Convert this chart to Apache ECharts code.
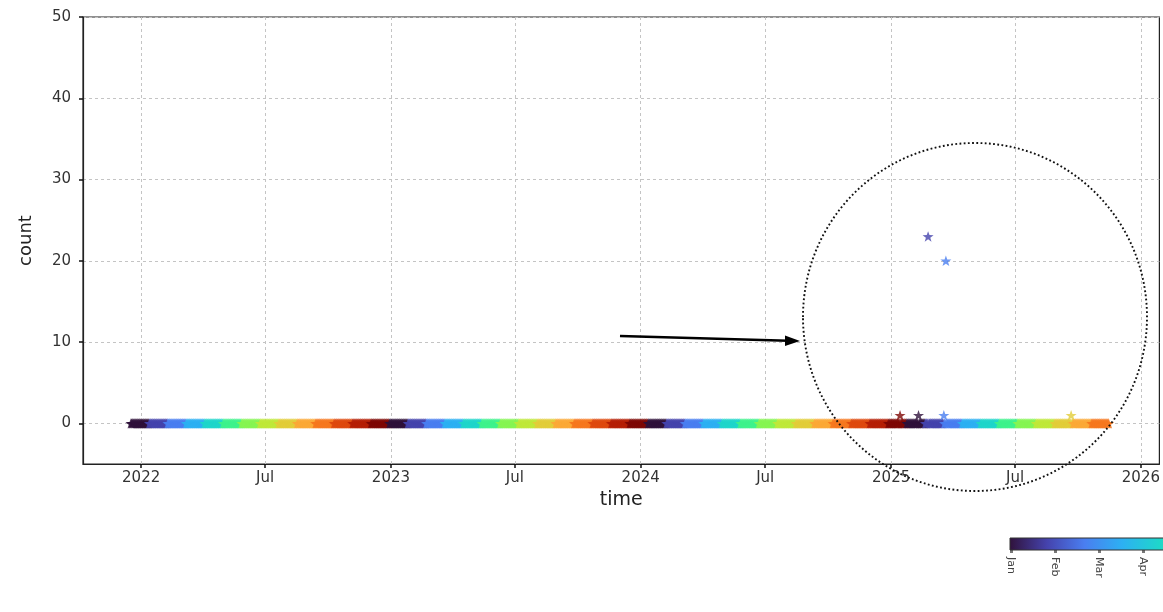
<!DOCTYPE html>
<html>
<head>
<meta charset="utf-8">
<script src="https://cdn.jsdelivr.net/npm/echarts@6/dist/echarts.min.js"></script>
<style>
html,body{margin:0;padding:0;background:#fff;}
#chart{width:1163px;height:612px;}
</style>
</head>
<body>
<div id="chart"></div>
<script>
// ---- data ----
const bandStart = '2021-12-17';          // first zero-count day
const bandEnd = '2025-11-15';            // last zero-count day
const eventDates = ['2025-01-14', '2025-02-10', '2025-02-24', '2025-03-19', '2025-03-22', '2025-09-21'];
const eventCounts = [1, 1, 23, 1, 20, 1];
const xTickDates = ['2022-01-01', '2022-07-01', '2023-01-01', '2023-07-01', '2024-01-01', '2024-07-01', '2025-01-01', '2025-07-01', '2026-01-01'];
const xTickLabels = ['2022', 'Jul', '2023', 'Jul', '2024', 'Jul', '2025', 'Jul', '2026'];
const yTicks = [0, 10, 20, 30, 40, 50];
const colorbarMonths = ['Jan', 'Feb', 'Mar', 'Apr', 'May', 'Jun', 'Jul', 'Aug', 'Sep', 'Oct', 'Nov', 'Dec'];
const palette = ['#30123b', '#4543ad', '#4a7ef0', '#2db0f2', '#1fd6cb', '#3ef28c', '#86f553', '#bfe83a', '#e2cd3a', '#fba937', '#f6781f', '#de4a0f', '#b51f06', '#7e0805'];
const colourCycleDays = 27;

// ---- helpers ----
const DAY = 86400000;
const ts = s => { const [y, m, d] = s.split('-').map(Number); return Date.UTC(y, m - 1, d); };
const t0 = ts(bandStart);
const phaseOf = t => Math.floor(Math.round((t - t0) / DAY) / colourCycleDays) % palette.length;

const eventTs = eventDates.map(ts);
const bandData = [];
for (let t = t0; t <= ts(bandEnd); t += DAY) {
  if (eventTs.indexOf(t) >= 0) continue;
  bandData.push([t, 0, phaseOf(t)]);
}
const eventData = eventTs.map((t, i) => [t, eventCounts[i], phaseOf(t)]);

const xTickTs = xTickDates.map(ts);
const labelFor = v => { const i = xTickTs.indexOf(v); return i >= 0 ? xTickLabels[i] : ''; };

const star = 'path://M0,-10L2.35,-3.24L9.51,-3.09L3.8,1.24L5.88,8.09L0,4L-5.88,8.09L-3.8,1.24L-9.51,-3.09L-2.35,-3.24Z';
const FONT = 'DejaVu Sans';
const CB_STEP = 44;                 // colorbar px per month
const CB_LEFT = 1011;
const cbVisible = (1163 - CB_LEFT) / CB_STEP;

const chart = echarts.init(document.getElementById('chart'), null, {renderer: 'canvas'});
chart.setOption({
  animation: false,
  backgroundColor: '#fff',
  textStyle: {fontFamily: FONT},
  grid: [
    {left: 83, top: 17, right: 3, bottom: 148, show: true, borderColor: '#222', borderWidth: 1.2, backgroundColor: 'transparent'},
    {left: CB_LEFT, top: 538, right: 0, height: 12}
  ],
  xAxis: [
    {
      type: 'value', gridIndex: 0,
      min: ts('2021-10-08'), max: ts('2026-01-28'),
      name: 'time', nameLocation: 'middle', nameGap: 27,
      nameTextStyle: {fontSize: 19, color: '#222', fontFamily: FONT},
      axisLine: {show: true, onZero: false, lineStyle: {color: '#222', width: 1.2}},
      axisTick: {show: true, inside: false, length: 4, lineStyle: {color: '#111', width: 1.5}, customValues: xTickTs},
      axisLabel: {customValues: xTickTs, formatter: v => labelFor(v), fontSize: 15, color: '#333', margin: 7, fontFamily: FONT},
      splitLine: {show: true, lineStyle: {color: '#c4c4c4', width: 1, type: [3, 3]}}
    },
    {
      type: 'value', gridIndex: 1, min: 0, max: cbVisible, interval: 1,
      axisLine: {show: false, onZero: false},
      axisTick: {show: true, length: 3, lineStyle: {color: '#777', width: 3}},
      axisLabel: {formatter: v => colorbarMonths[v] || '', rotate: -90, fontSize: 11, color: '#444', margin: 7, fontFamily: FONT, showMaxLabel: false},
      splitLine: {show: false}
    }
  ],
  yAxis: [
    {
      type: 'value', gridIndex: 0, min: -5, max: 50,
      name: 'count', nameLocation: 'middle', nameGap: 48,
      nameTextStyle: {fontSize: 18, color: '#222', fontFamily: FONT},
      axisLine: {show: true, onZero: false, lineStyle: {color: '#222', width: 1.2}},
      axisTick: {show: true, inside: false, length: 4, lineStyle: {color: '#111', width: 1.5}, customValues: yTicks},
      axisLabel: {customValues: yTicks, fontSize: 15, color: '#333', margin: 12, fontFamily: FONT},
      splitLine: {show: true, lineStyle: {color: '#c4c4c4', width: 1, type: [3, 3]}}
    },
    {type: 'value', gridIndex: 1, min: 0, max: 1, show: false}
  ],
  visualMap: {
    show: false, type: 'continuous', dimension: 2, seriesIndex: [0, 1],
    min: 0, max: palette.length - 1, inRange: {color: palette}
  },
  series: [
    {
      type: 'scatter', xAxisIndex: 0, yAxisIndex: 0, data: bandData,
      symbol: star, symbolSize: 11, symbolKeepAspect: true, silent: true
    },
    {
      type: 'scatter', xAxisIndex: 0, yAxisIndex: 0, data: eventData,
      symbol: star, symbolSize: 11, symbolKeepAspect: true, silent: true
    },
    {
      type: 'custom', xAxisIndex: 1, yAxisIndex: 1, data: [[0, colorbarMonths.length - 1]], silent: true, clip: false,
      renderItem: (params, api) => {
        const p0 = api.coord([api.value(0), 0]);
        const p1 = api.coord([api.value(1), 1]);
        return {
          type: 'rect',
          shape: {x: p0[0] - 1, y: p1[1], width: p1[0] - p0[0] + 2, height: p0[1] - p1[1]},
          style: {
            fill: {type: 'linear', x: 0, y: 0, x2: 1, y2: 0,
              colorStops: palette.map((c, i) => ({offset: i / (palette.length - 1), color: c}))},
            stroke: '#333', lineWidth: 1
          }
        };
      }
    }
  ],
  graphic: [
    {type: 'line', shape: {x1: 620, y1: 336, x2: 788, y2: 340.7}, style: {stroke: '#000', lineWidth: 2.6}, z: 100},
    {type: 'polygon', shape: {points: [[800, 341], [785, 335.5], [785, 346]]}, style: {fill: '#000'}, z: 100},
    {type: 'ellipse', shape: {cx: 975, cy: 317, rx: 172, ry: 174}, style: {fill: null, stroke: '#111', lineWidth: 1.9, lineDash: [1.8, 2.4]}, z: 100}
  ]
});
</script>
</body>
</html>
